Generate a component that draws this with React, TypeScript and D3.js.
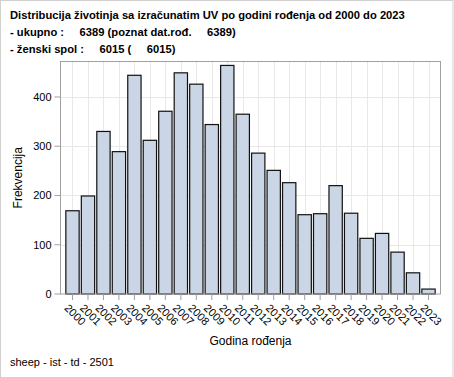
import React from "react";
import * as d3 from "d3";

const years = ["2000","2001","2002","2003","2004","2005","2006","2007","2008","2009","2010","2011","2012","2013","2014","2015","2016","2017","2018","2019","2020","2021","2022","2023"];
const counts = [169, 199, 330, 289, 444, 312, 371, 449, 426, 344, 464, 365, 286, 251, 226, 161, 163, 220, 164, 113, 123, 85, 43, 10];
const yTicks = [0, 100, 200, 300, 400];
const titleLines = [
  "Distribucija životinja sa izračunatim UV po godini rođenja od 2000 do 2023",
  "- ukupno :     6389 (poznat dat.rođ.     6389)",
  "- ženski spol :     6015 (     6015)",
];
const xTitle = "Godina rođenja";
const yTitle = "Frekvencija";
const footnote = "sheep - ist - td - 2501";

const W = 454, H = 378;
const L = 60.5, R = 440.5, T = 61.5, B = 294;

export default function App() {
  const x = d3.scaleBand<string>().domain(years).range([L, R]).paddingInner(0.14).paddingOuter(0.345);
  const y = d3.scaleLinear().domain([0, 472]).range([B, T]);
  const font = "'Liberation Sans', Arial, sans-serif";
  return (
    <svg width={W} height={H} style={{ position: "absolute", left: 0, top: 0 }} fontFamily={font}>
      <rect x={0.5} y={0.5} width={W - 1.5} height={H - 1} fill="#fff" stroke="#d0d0d0" />
      {titleLines.map((t, i) => (
        <text key={i} x={10} y={19 + i * 17} fontSize={11.2} fontWeight="bold" xmlSpace="preserve" style={{ whiteSpace: "pre" }}>{t}</text>
      ))}
      {yTicks.filter(v => v > 0).map(v => (
        <line key={"g" + v} x1={L} x2={R} y1={Math.round(y(v)) + 0.5} y2={Math.round(y(v)) + 0.5} stroke="#e8e8e8" />
      ))}
      {years.map(yr => {
        const cx = Math.round(x(yr)! + x.bandwidth() / 2) + 0.5;
        return <line key={"v" + yr} x1={cx} x2={cx} y1={T} y2={B} stroke="#e8e8e8" />;
      })}
      {years.map((yr, i) => (
        <rect key={yr} x={x(yr)!} y={y(counts[i])} width={x.bandwidth()} height={B - y(counts[i])}
          fill="#cad5e5" stroke="#111" strokeWidth={1.2} />
      ))}
      <rect x={L} y={T} width={R - L} height={B - T} fill="none" stroke="#a0a0a0" />
      {yTicks.map(v => (
        <g key={"t" + v}>
          <line x1={L - 6} x2={L} y1={y(v)} y2={y(v)} stroke="#a0a0a0" />
          <text x={L - 9} y={y(v)} dy="0.35em" textAnchor="end" fontSize={11}>{v}</text>
        </g>
      ))}
      {years.map(yr => {
        const cx = x(yr)! + x.bandwidth() / 2;
        return (
          <g key={"xt" + yr}>
            <line x1={cx} x2={cx} y1={B} y2={B + 6} stroke="#a0a0a0" />
            <text transform={`translate(${cx - 6},${B + 12}) rotate(45)`} dy="0.35em" fontSize={11}>{yr}</text>
          </g>
        );
      })}
      <text x={(L + R) / 2} y={345} textAnchor="middle" fontSize={12}>{xTitle}</text>
      <text transform={`translate(22,${(T + B) / 2}) rotate(-90)`} textAnchor="middle" fontSize={12}>{yTitle}</text>
      <text x={10} y={366} fontSize={11}>{footnote}</text>
    </svg>
  );
}
